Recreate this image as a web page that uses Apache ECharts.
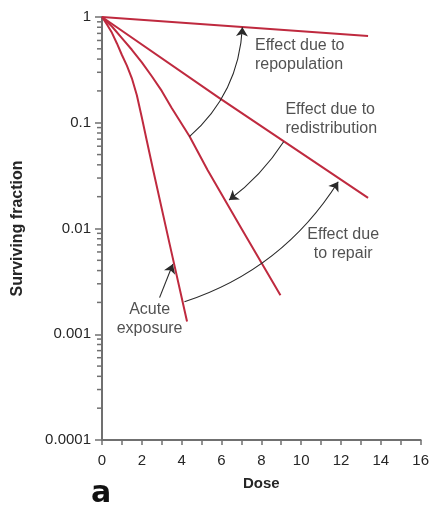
<!DOCTYPE html>
<html><head><meta charset="utf-8">
<script src="https://cdn.jsdelivr.net/npm/echarts@6/dist/echarts.min.js"></script>
<style>html,body{margin:0;padding:0;background:#fff}#c{width:432px;height:507px}</style>
</head><body><div id="c"></div>
<script>
// ---- data ----
const xTickLabels = ['0','2','4','6','8','10','12','14','16'];
const yTickLabels = ['0.0001','0.001','0.01','0.1','1'];
const yMinorTicks = [
  0.0002,0.0003,0.0004,0.0005,0.0006,0.0007,0.0008,0.0009,
  0.002,0.003,0.004,0.005,0.006,0.007,0.008,0.009,
  0.02,0.03,0.04,0.05,0.06,0.07,0.08,0.09,
  0.2,0.3,0.4,0.5,0.6,0.7,0.8,0.9
];
const repopulationDose = [0, 13.36];
const repopulationSF   = [1, 0.66];
const redistributionDose = [0, 5.88, 13.36];
const redistributionSF   = [1, 0.172, 0.0195];
const repairDose = [0, 0.5, 1.0, 1.5, 2.0, 2.5, 3.0, 3.5, 4.4, 5.3, 7.0, 8.96];
const repairSF   = [1, 0.813, 0.631, 0.490, 0.372, 0.275, 0.200, 0.138, 0.0741, 0.0357, 0.0100, 0.00234];
const acuteDose = [0, 0.25, 0.5, 0.75, 1.0, 1.25, 1.5, 1.75, 2.0, 2.25, 2.56, 3.4, 4.27];
const acuteSF   = [1, 0.851, 0.708, 0.562, 0.437, 0.347, 0.263, 0.182, 0.112, 0.0676, 0.0363, 0.00708, 0.00132];

const arrowFrom = [[4.39, 0.0738], [9.12, 0.0662], [4.14, 0.00203], [2.89, 0.00222]];
const arrowTo   = [[7.05, 0.80],   [6.38, 0.0186], [11.86, 0.0277], [3.56, 0.00461]];
const arrowBend = [-0.21, 0.09, -0.18, 0];

const noteText   = ['Effect due to\nrepopulation', 'Effect due to\nredistribution', 'Effect due\nto repair', 'Acute\nexposure'];
const noteAnchor = [[7.68, 0.669], [9.21, 0.165], [12.11, 0.01084], [2.39, 0.00212]];
const noteAlign  = ['left', 'left', 'center', 'center'];

// ---- chart ----
const RED = '#bf2a3f';
const AXIS = '#707070';
const TXT = '#262626';
const zip = (a, b) => a.map((v, i) => [v, b[i]]);

const curve = (name, xs, ys) => ({
  name, type: 'line', data: zip(xs, ys), showSymbol: false, symbol: 'none',
  smooth: false,
  lineStyle: { color: RED, width: 2, join: 'round' }, z: 3, silent: true
});

const chart = echarts.init(document.getElementById('c'), null, { renderer: 'canvas' });
chart.setOption({
  animation: false,
  backgroundColor: '#fff',
  title: {
    text: 'a', left: 86, top: 474,
    textStyle: { fontFamily: 'DejaVu Sans', fontWeight: 'bold', fontSize: 30, color: '#111' }
  },
  grid: { left: 102, right: 9, top: 17, bottom: 67 },
  xAxis: {
    type: 'value', min: 0, max: 16, interval: 2,
    name: 'Dose', nameLocation: 'middle', nameGap: 36,
    nameTextStyle: { fontFamily: 'Liberation Sans', fontWeight: 'bold', fontSize: 15, color: TXT },
    axisLine: { show: true, onZero: false, lineStyle: { color: AXIS, width: 2 } },
    axisTick: { show: true, length: 5, lineStyle: { color: AXIS, width: 1.5 } },
    minorTick: { show: true, splitNumber: 2, length: 5, lineStyle: { color: AXIS, width: 1.5 } },
    splitLine: { show: false },
    axisLabel: {
      margin: 13, fontFamily: 'Liberation Sans', fontSize: 15, color: TXT,
      formatter: (v) => xTickLabels[Math.round(v / 2)]
    }
  },
  yAxis: {
    type: 'log', logBase: 10, min: 0.0001, max: 1,
    name: 'Surviving fraction', nameLocation: 'middle', nameGap: 76, nameRotate: 90,
    nameTextStyle: { fontFamily: 'Liberation Sans', fontWeight: 'bold', fontSize: 16, color: TXT },
    axisLine: { show: true, lineStyle: { color: AXIS, width: 2 } },
    axisTick: { show: true, length: 7, lineStyle: { color: AXIS, width: 1.5 } },
    splitLine: { show: false },
    axisLabel: {
      margin: 11, fontFamily: 'Liberation Sans', fontSize: 15, color: TXT,
      formatter: (v) => yTickLabels[Math.round(Math.log10(v)) + 4]
    }
  },
  series: [
    {
      type: 'custom', clip: false, silent: true, z: 2,
      data: yMinorTicks.map(v => [0, v]),
      encode: { x: 0, y: 1 },
      renderItem: (params, api) => {
        const p = api.coord([0, api.value(1)]);
        return { type: 'line', shape: { x1: p[0] - 5, y1: p[1], x2: p[0], y2: p[1] },
                 style: { stroke: AXIS, lineWidth: 1.5 } };
      }
    },
    curve('Repopulation', repopulationDose, repopulationSF),
    curve('Redistribution', redistributionDose, redistributionSF),
    curve('Repair', repairDose, repairSF),
    curve('Acute exposure', acuteDose, acuteSF),
    {
      type: 'lines', coordinateSystem: 'cartesian2d', silent: true, z: 4,
      symbol: ['none', 'arrow'], symbolSize: 9,
      lineStyle: { color: '#2a2a2a', width: 1.1, opacity: 1 },
      data: arrowFrom.map((f, i) => ({
        coords: [f, arrowTo[i]],
        lineStyle: { curveness: arrowBend[i] }
      }))
    },
    {
      type: 'scatter', silent: true, symbolSize: 0, z: 5,
      data: noteAnchor.map((a, i) => ({
        value: a,
        label: {
          show: true, position: [0, 0], formatter: noteText[i],
          align: noteAlign[i], verticalAlign: 'top',
          fontFamily: 'Liberation Sans', fontSize: 16, lineHeight: 19.5, color: TXT
        }
      }))
    }
  ]
});
</script></body></html>
